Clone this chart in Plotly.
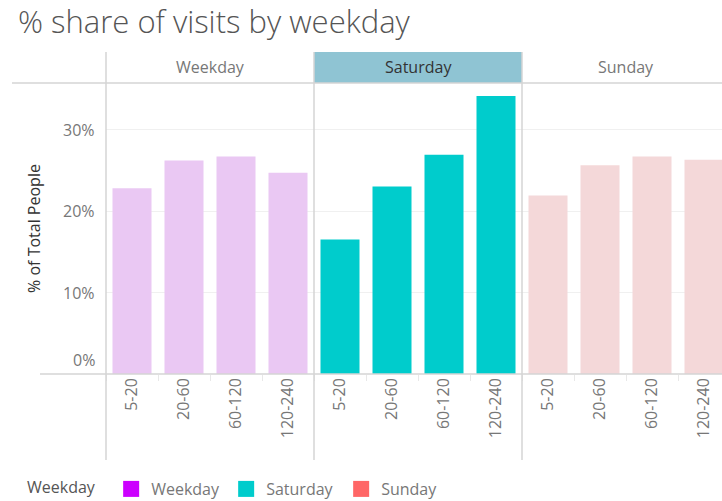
import plotly.graph_objects as go

# ---- data ----
panels = ["Weekday", "Saturday", "Sunday"]
durations = ["5-20", "20-60", "60-120", "120-240"]
weekday_vals = [22.8, 26.2, 26.7, 24.7]
saturday_vals = [16.5, 23.0, 26.9, 34.1]
sunday_vals = [21.9, 25.6, 26.7, 26.3]
y_ticks = [0, 10, 20, 30]
y_tick_text = ["0%", "10%", "20%", "30%"]

bar_colors = {"Weekday": "#eac8f3", "Saturday": "#00cccc", "Sunday": "#f4d8d9"}
legend_colors = {"Weekday": "#cc00ff", "Saturday": "#00cccc", "Sunday": "#ff6666"}
series = {"Weekday": weekday_vals, "Saturday": saturday_vals, "Sunday": sunday_vals}

FONT = "Open Sans"
W, H = 722, 501
ML, MT, MB = 106, 83, 127
plot_h = H - MT - MB
n_cat = len(durations)

fig = go.Figure()
tickvals, ticktext = [], []
for p_i, name in enumerate(panels):
    xs = [p_i * n_cat + i for i in range(n_cat)]
    tickvals += xs
    ticktext += durations
    fig.add_trace(go.Bar(
        x=xs, y=series[name], width=0.75, name=name, showlegend=False,
        marker=dict(color=bar_colors[name], line=dict(width=0)),
    ))
# legend entries
for name in panels:
    fig.add_trace(go.Scatter(
        x=[None], y=[None], mode="markers", name=name,
        marker=dict(symbol="square", size=16, color=legend_colors[name]),
    ))

x_lo = -0.5
x_hi = x_lo + (W - ML) / 52.0

def px_to_paper_y(py):
    return (H - MB - py) / plot_h

def px_to_paper_x(px):
    return (px - ML) / (W - ML)

shapes = []
annotations = []
# header background for Saturday
shapes.append(dict(type="rect", xref="x", yref="paper", x0=3.5, x1=7.5,
                   y0=1, y1=px_to_paper_y(52), fillcolor="#8fc4d3",
                   line=dict(width=0), layer="below"))
# header bottom line
shapes.append(dict(type="line", xref="paper", yref="paper",
                   x0=px_to_paper_x(12), x1=1, y0=1, y1=1,
                   line=dict(color="#d4d4d4", width=1.5)))
# bottom axis line extension
shapes.append(dict(type="line", xref="paper", yref="paper",
                   x0=px_to_paper_x(40), x1=1, y0=0, y1=0,
                   line=dict(color="#d4d4d4", width=1.5)))
# panel dividers
shapes.append(dict(type="line", xref="paper", yref="paper",
                   x0=0, x1=0, y0=px_to_paper_y(52), y1=px_to_paper_y(460),
                   line=dict(color="#d4d4d4", width=1.5)))
for xb in [3.5, 7.5]:
    shapes.append(dict(type="line", xref="x", yref="paper",
                       x0=xb, x1=xb, y0=px_to_paper_y(52), y1=px_to_paper_y(460),
                       line=dict(color="#d4d4d4", width=1.5)))

# header texts
for p_i, name in enumerate(panels):
    annotations.append(dict(
        x=p_i * n_cat + 1.5, y=(1 + px_to_paper_y(52)) / 2, xref="x", yref="paper",
        text=name, showarrow=False, yanchor="middle",
        font=dict(family=FONT, size=16, color="#333333" if name == "Saturday" else "#777777"),
    ))

# y tick labels
for v, t in zip(y_ticks, y_tick_text):
    annotations.append(dict(
        x=px_to_paper_x(97), y=v, xref="paper", yref="y", text=t, showarrow=False,
        xanchor="right", yanchor="middle", yshift=14 if v == 0 else 0,
        font=dict(family=FONT, size=16, color="#777777"),
    ))

fig.update_layout(
    width=W, height=H,
    margin=dict(l=ML, r=0, t=MT, b=MB, autoexpand=False),
    plot_bgcolor="white", paper_bgcolor="white",
    bargap=0.25,
    title=dict(text="% share of visits by weekday", x=18 / W, xref="container", xanchor="left",
               y=1 - 22 / H, yref="container", yanchor="middle",
               font=dict(family=FONT, size=31, color="#555555", weight=300)),
    xaxis=dict(range=[x_lo, x_hi], tickvals=tickvals, ticktext=ticktext, tickangle=-90,
               showgrid=False, zeroline=False, showline=False,
               ticks="", tickfont=dict(family=FONT, size=16, color="#777777"),
               minor=dict(tick0=0.5, dtick=1, ticks="outside", ticklen=6, tickcolor="#e8e8e8",
                          showgrid=False)),
    yaxis=dict(range=[0, (H - MB - MT) / 8.15], tickvals=y_ticks, showticklabels=False,
               showgrid=True, gridcolor="#f0f0f0", zeroline=False, showline=False,
               title=dict(text="% of Total People", standoff=60,
                          font=dict(family=FONT, size=16, color="#333333"))),
    shapes=shapes,
    annotations=annotations,
    legend=dict(orientation="h", x=px_to_paper_x(25), xref="paper", xanchor="left",
                y=1 - 489 / H, yref="container", yanchor="middle",
                title=dict(text="Weekday&nbsp;&nbsp;",
                           font=dict(family=FONT, size=16, color="#555555")),
                font=dict(family=FONT, size=16, color="#777777"), itemwidth=30,
                entrywidth=70, entrywidthmode="pixels"),
)

fig.write_html("out.html", config={"displayModeBar": False})
with open("out.html", "r", encoding="utf-8") as f:
    html = f.read()
html = html.replace("<body>", '<body style="margin:0;padding:0;">', 1)
with open("out.html", "w", encoding="utf-8") as f:
    f.write(html)
